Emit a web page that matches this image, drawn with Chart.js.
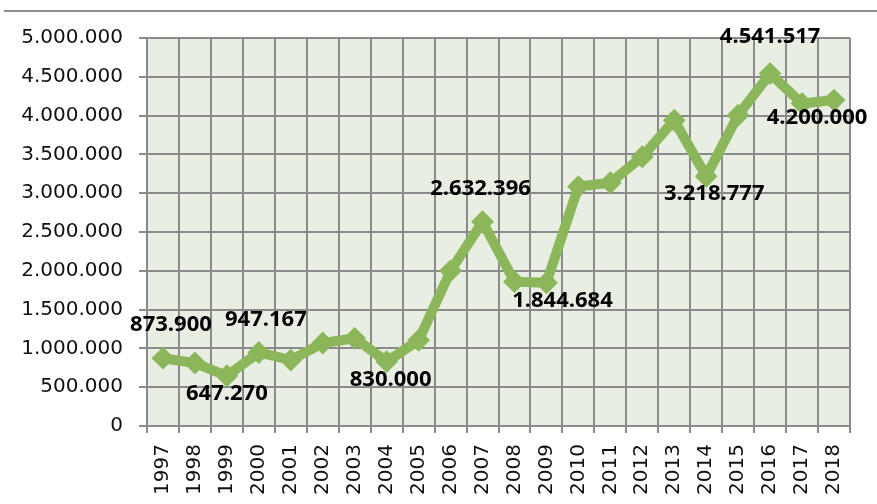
<!DOCTYPE html>
<html>
<head>
<meta charset="utf-8">
<script src="https://cdn.jsdelivr.net/npm/chart.js@4.4.1/dist/chart.umd.min.js"></script>
<style>
  body { margin: 0; background: #fff; }
  .wrap { position: relative; width: 877px; height: 504px; }
  .topLine { position: absolute; left: 4px; right: 0; top: 10px; height: 2px; background: #8f8f8f; }
  canvas { position: absolute; left: 0; top: 0; }
</style>
</head>
<body>
<div class="wrap">
  <div class="topLine"></div>
  <canvas id="chart" width="877" height="504"></canvas>
</div>
<script>
"use strict";
const years = ["1997", "1998", "1999", "2000", "2001", "2002", "2003", "2004", "2005", "2006", "2007",
  "2008", "2009", "2010", "2011", "2012", "2013", "2014", "2015", "2016", "2017", "2018"];
const values = [873900, 812000, 647270, 947167, 850000, 1070000, 1130000, 830000, 1105000, 2000000, 2632396,
  1860000, 1844684, 3085000, 3135000, 3470000, 3940000, 3218777, 4005000, 4541517, 4155000, 4200000];
// nam nao co nhan so lieu
const labelledYears = ["1997", "1999", "2000", "2004", "2007", "2009", "2014", "2016", "2018"];

const green = "#8cb65a";

// dinh dang so kieu 1.000.000
function fmt(v) {
  return String(v).replace(/\B(?=(\d{3})+(?!\d))/g, ".");
}

// vi tri nhan: tren / duoi diem, lech ngang
const labelPos = {
  "1997": ["above", 8],
  "1999": ["below", 0],
  "2000": ["above", 7],
  "2004": ["below", 4],
  "2007": ["above", -2],
  "2009": ["below", 16],
  "2014": ["below", 8],
  "2016": ["above", 0],
  "2018": ["below", -17],
};

const pointLabels = {
  id: "pointLabels",
  afterDatasetsDraw(chart) {
    const ctx = chart.ctx;
    const meta = chart.getDatasetMeta(0);
    ctx.save();
    ctx.font = 'bold 22px "Open Sans"';
    ctx.fillStyle = "#000";
    ctx.textAlign = "center";
    ctx.textBaseline = "middle";
    labelledYears.forEach((y) => {
      const i = years.indexOf(y);
      const pt = meta.data[i];
      const [pos, dx] = labelPos[y];
      const dy = pos === "above" ? (y === "2016" ? -37 : -33) : 18;
      ctx.fillText(fmt(values[i]), pt.x + dx, pt.y + dy);
    });
    ctx.restore();
  },
};

const plotBg = {
  id: "plotBg",
  beforeDraw(chart) {
    const { ctx, chartArea: a } = chart;
    ctx.save();
    ctx.fillStyle = "#e8eee1";
    ctx.fillRect(a.left, a.top, a.right - a.left, a.bottom - a.top);
    ctx.restore();
  },
};

const ctx = document.getElementById("chart").getContext("2d");
new Chart(ctx, {
  type: "line",
  data: {
    labels: years,
    datasets: [
      {
        data: values,
        borderColor: green,
        backgroundColor: green,
        borderWidth: 10,
        tension: 0,
        pointStyle: "rectRot",
        pointRadius: 10,
        pointBorderWidth: 2,
        pointBackgroundColor: green,
        pointBorderColor: green,
        clip: false,
      },
    ],
  },
  options: {
    responsive: false,
    animation: false,
    layout: { padding: { top: 38, right: 27, left: 0, bottom: 0 } },
    plugins: {
      legend: { display: false },
      tooltip: { enabled: false },
    },
    scales: {
      x: {
        offset: true,
        grid: { offset: true, color: "#8a8a8a", lineWidth: 2, tickLength: 7 },
        border: { color: "#8a8a8a", width: 2 },
        ticks: {
          minRotation: 90,
          maxRotation: 90,
          padding: 11,
          color: "#111",
          font: { family: "DejaVu Sans", size: 20 },
        },
        afterFit(scale) {
          scale.height = 78;
        },
      },
      y: {
        min: 0,
        max: 5000000,
        grid: { color: "#8a8a8a", lineWidth: 2, tickLength: 8 },
        border: { color: "#8a8a8a", width: 2 },
        ticks: {
          stepSize: 500000,
          padding: 16,
          color: "#111",
          font: { family: "DejaVu Sans", size: 20 },
          callback: (v) => fmt(v),
        },
        afterFit(scale) {
          scale.width = 147;
        },
      },
    },
  },
  plugins: [plotBg, pointLabels],
});
</script>
</body>
</html>
